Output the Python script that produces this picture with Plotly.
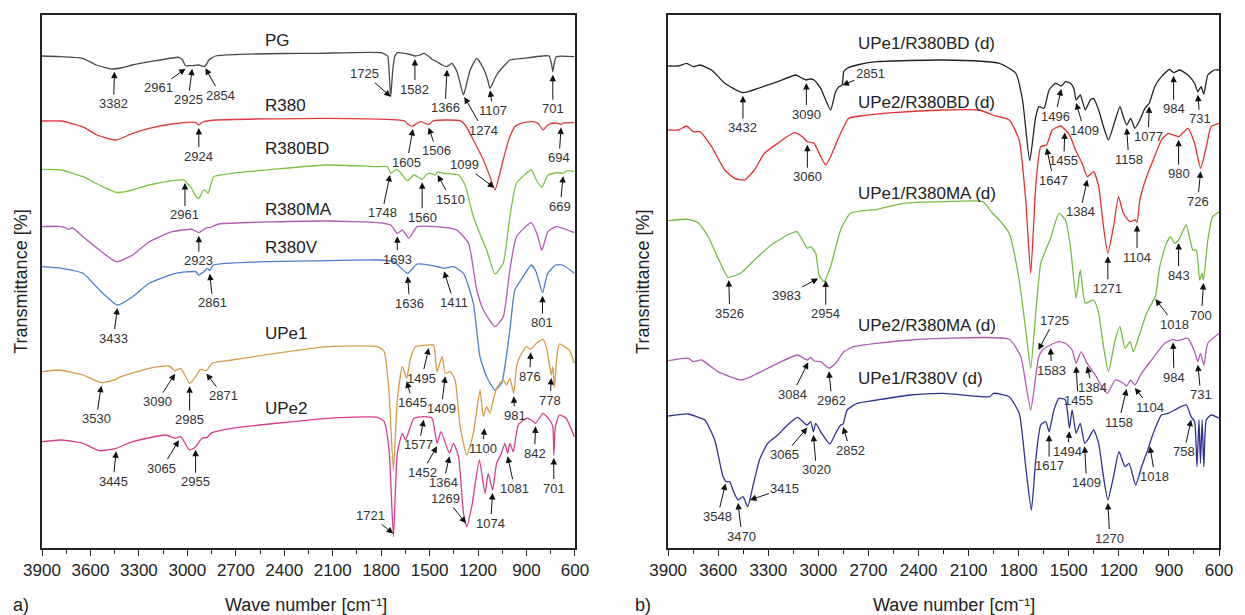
import numpy as np
import plotly.graph_objects as go

# ---------------------------------------------------------------------------
# FTIR spectra, wavenumber (cm-1) and stacked transmittance (offset, a.u.)
# ---------------------------------------------------------------------------
# Panel a)
pg_wn = [3900, 3800, 3648, 3564, 3464, 3400, 3341, 3193, 3052, 3030, 3011, 2990, 2970, 2929, 2910, 2898, 2880, 2867, 2826, 2700,
         2400, 2191, 1800, 1760, 1752, 1741, 1728, 1716, 1700, 1620, 1591, 1560, 1536, 1500, 1485, 1454, 1423, 1392, 1362, 1330,
         1290, 1270, 1249, 1208, 1167, 1140, 1126, 1085, 1044, 1003, 921, 800, 760, 745, 737, 728, 716, 604]
pg_t = [492, 491.5, 489.7, 483, 479, 480.5, 483, 487.3, 490.7, 488, 482.3, 482.3, 482.3, 483, 482, 481.3, 484, 488, 492, 493.5,
        494.5, 494.7, 495.3, 492, 480, 451.3, 478, 491.3, 495.3, 493.5, 492, 493, 494.7, 491, 488.7, 486.3, 483, 481.3, 484.7, 476.3,
        453, 465, 478, 489.7, 479.7, 468, 459.7, 473, 481.3, 488, 489.7, 492, 492, 484, 476.3, 485, 491.3, 491.3]

r380_wn = [3900, 3780, 3650, 3560, 3441, 3339, 3236, 3094, 2949, 2929, 2905, 2826, 2130, 1659, 1628, 1603, 1580, 1556, 1506, 1475,
           1311, 1280, 1229, 1167, 1126, 1095, 1065, 1034, 1003, 972, 921, 859, 825, 798, 775, 757, 720, 686, 670, 604]
r380_t = [427, 427, 421.3, 413, 408, 414.7, 419.7, 424, 425.7, 423, 426, 428, 429.7, 427.3, 423, 422, 424.5, 426.3, 423.5, 427.3,
          427.3, 423, 408, 388, 371.3, 358, 374.7, 394.7, 411.3, 421.3, 425.3, 426.3, 424, 418, 422, 424, 425, 423.5, 425, 425.3]

r380bd_wn = [3900, 3780, 3646, 3544, 3441, 3380, 3236, 3093, 3021, 3001, 2975, 2950, 2929, 2910, 2898, 2885, 2872, 2855, 2837, 2724,
             2130, 1823, 1760, 1741, 1720, 1700, 1638, 1597, 1546, 1520, 1495, 1464, 1450, 1413, 1321, 1280, 1229, 1147, 1095, 1044,
             1003, 962, 870, 839, 805, 767, 706, 676, 645, 604]
r380bd_t = [378.7, 378, 371.3, 363, 355.7, 356.3, 363, 367.3, 368, 364.7, 360, 352, 349.7, 355, 358, 357, 354.7, 363, 371.3, 374.7,
            383, 381.3, 381.3, 374.7, 377, 378.7, 367.3, 373, 368.7, 373.5, 374.7, 373, 376, 374.7, 373, 363, 331.3, 298, 274, 284.7,
            331.3, 364.7, 378, 368, 360.7, 373, 375.3, 374.7, 377.3, 376.3]

r380ma_wn = [3900, 3800, 3760, 3738, 3710, 3646, 3544, 3441, 3339, 3236, 3093, 2970, 2929, 2888, 2857, 2806, 2130, 1823, 1741, 1700,
             1669, 1628, 1577, 1413, 1331, 1259, 1208, 1167, 1095, 1044, 1003, 962, 870, 829, 805, 767, 716, 604]
r380ma_t = [321.3, 321.7, 320.7, 318.7, 320, 311.3, 298, 286.3, 293, 306.3, 316.3, 318.7, 315.3, 319.7, 320.7, 324, 327, 325.3, 323, 314.7,
            318, 309.7, 321.3, 320.7, 318, 304.7, 258, 238, 221.3, 231.3, 278, 311.3, 325.3, 311.3, 298, 316.3, 321.3, 315.3]

r380v_wn = [3900, 3780, 3646, 3544, 3433, 3339, 3236, 3072, 2949, 2929, 2898, 2875, 2861, 2840, 2130, 1823, 1721, 1636, 1577, 1440,
            1411, 1352, 1290, 1229, 1188, 1147, 1095, 1054, 1003, 972, 921, 870, 840, 801, 770, 720, 676, 604]
r380v_t = [281.3, 279.7, 274.7, 258, 243, 251.3, 264.7, 274.7, 276.3, 273, 276.3, 279.7, 277.3, 283, 287.3, 288, 286.3, 274.7, 284, 281,
           279.7, 281.3, 274.7, 244.7, 191.3, 171.3, 158, 164.7, 218, 258, 271.3, 283, 276, 255.3, 274, 283, 283, 274.7]

upe1_wn = [3900, 3800, 3646, 3533, 3441, 3420, 3236, 3113, 3076, 3041, 2986, 2949, 2918, 2882, 2847, 2724, 2130, 1823, 1781, 1751,
           1724, 1700, 1669, 1642, 1618, 1587, 1505, 1475, 1454, 1423, 1403, 1372, 1342, 1311, 1270, 1229, 1188, 1167, 1147, 1126,
           1106, 1085, 1065, 1044, 1024, 1003, 979, 962, 941, 901, 874, 839, 798, 778, 757, 747, 737, 727, 712, 696,
           665, 635, 604]
upe1_t = [176.3, 178, 173, 165.3, 168.7, 170.7, 179.7, 182, 177.3, 179.7, 164.7, 171.3, 178.7, 177.3, 184.7, 188, 201.3, 201.3, 196.3, 154.7,
          78, 148, 181.3, 169.7, 189.7, 201.3, 203, 203, 176.3, 191.3, 174.7, 176.3, 168, 121.3, 93, 114.7, 158, 131.3, 141.3, 134.7,
          148, 159.7, 164.7, 168, 163, 169.7, 154.7, 181.3, 191.3, 201.3, 198.7, 204.7, 208.7, 201.3, 183, 173, 181.3, 160.7, 191.3, 204,
          201.3, 198, 184.7]

upe2_wn = [3900, 3780, 3646, 3544, 3441, 3339, 3134, 3076, 3041, 2986, 2949, 2909, 2878, 2847, 2724, 2130, 1823, 1781, 1751, 1724,
           1700, 1669, 1649, 1597, 1536, 1485, 1454, 1430, 1377, 1352, 1321, 1290, 1270, 1239, 1192, 1157, 1137, 1110, 1085, 1055,
           1034, 1017, 1003, 982, 951, 901, 870, 844, 798, 757, 737, 731, 721, 696, 655, 604]
upe2_t = [106.3, 108, 104.7, 97.3, 99.7, 106.3, 113, 109.7, 111.3, 98, 101.3, 109.7, 110.7, 115.3, 119.7, 129.7, 130.7, 126.3, 98, 11.3,
          94.7, 114.7, 108, 129.7, 131.3, 129.7, 104.7, 116.3, 94.7, 104.7, 91.3, 34.7, 21.3, 41.3, 88, 54.7, 74.7, 58, 84.7, 94.7,
          104.7, 94.7, 104.7, 96.3, 123, 129.7, 128, 124.7, 134.7, 128, 121.3, 93, 121.3, 133, 129.7, 111.3]

# Panel b)
e1bd_wn = [3900, 3838, 3789, 3749, 3710, 3640, 3561, 3452, 3343, 3244, 3135, 3100, 3072, 3050, 3026, 2986, 2927, 2897, 2877, 2858,
           2848, 2828, 2768, 2650, 2253, 1916, 1817, 1777, 1734, 1698, 1678, 1648, 1618, 1579, 1545, 1520, 1490, 1470, 1456, 1431,
           1401, 1371, 1351, 1321, 1292, 1262, 1222, 1193, 1173, 1153, 1129, 1104, 1074, 1044, 1018, 985, 945, 896, 872, 836,
           786, 746, 727, 707, 691, 667, 628, 598]
e1bd_t = [482, 482, 484.7, 481.3, 483, 478, 464.7, 455.3, 460.7, 466.3, 473, 470, 468, 469, 468, 459.7, 438, 456.3, 461.3, 463,
          476.3, 479.7, 483, 486.3, 488, 484.7, 474.7, 448, 387.3, 431.3, 441.3, 439.7, 458, 464.7, 462, 466.3, 464.7, 459.7, 448, 453,
          438, 448, 449.7, 438, 421.3, 408, 428, 441.3, 431.3, 423, 429.7, 419.7, 428, 439.7, 444.7, 461.3, 471.3, 478.7, 475.3, 478,
          473, 464.7, 456.3, 461.3, 454, 473, 478, 478]

e2bd_wn = [3900, 3838, 3789, 3749, 3710, 3640, 3561, 3502, 3442, 3383, 3323, 3244, 3145, 3096, 3066, 3026, 2986, 2956, 2927, 2867,
           2818, 2748, 2550, 2253, 2038, 1956, 1857, 1797, 1758, 1728, 1698, 1668, 1633, 1599, 1549, 1520, 1490, 1460, 1420, 1389,
           1351, 1321, 1292, 1266, 1232, 1202, 1173, 1133, 1104, 1091, 1074, 1034, 994, 945, 905, 842, 786, 746, 710, 676,
           647, 598]
e2bd_t = [418, 418, 422, 416.3, 416.3, 401.3, 378, 369.7, 368, 378, 394.7, 404.7, 415.3, 411.3, 406.3, 404.7, 391.3, 383, 391.3, 414.7,
          429.7, 432, 435.3, 438, 438, 433, 428, 408, 348, 274.7, 361.3, 401.3, 403, 418, 422, 418, 411.3, 398, 384.7, 371.3,
          376.3, 361.3, 321.3, 294.7, 321.3, 351.3, 334.7, 326.3, 328, 326, 348, 371.3, 388, 408, 414.7, 411.3, 419.7, 404.7, 379.7, 401.3,
          421.3, 424.7]

e1ma_wn = [3900, 3779, 3720, 3660, 3601, 3541, 3462, 3383, 3283, 3185, 3129, 3085, 3066, 3046, 3016, 2996, 2967, 2927, 2867, 2808,
           2650, 2491, 2253, 2015, 1956, 1916, 1857, 1797, 1758, 1728, 1698, 1668, 1638, 1609, 1559, 1520, 1490, 1456, 1431, 1401,
           1351, 1321, 1292, 1262, 1222, 1193, 1163, 1133, 1113, 1074, 1034, 981, 955, 915, 890, 866, 842, 796, 757, 736,
           716, 702, 693, 667, 638, 598]
e1ma_t = [327.3, 328.7, 325.3, 311.3, 289.7, 270.7, 275.3, 288, 303, 313, 316.3, 304.7, 299.7, 301.3, 294.7, 273, 266.3, 281.3, 318, 334.7,
          338.7, 344.7, 346.3, 346.3, 334.7, 328, 314.7, 268, 218, 179.7, 234.7, 284.7, 298, 309.7, 334.7, 328, 301.3, 249.7, 278, 244.7,
          248, 234.7, 201.3, 176.3, 208, 221.3, 199.7, 206.3, 196.3, 214.7, 234.7, 252, 281.3, 304.7, 311.3, 304.7, 308, 323, 298, 298,
          268, 274.7, 268, 308, 331.3, 336.3]

e2ma_wn = [3900, 3779, 3750, 3700, 3601, 3462, 3383, 3244, 3125, 3066, 3046, 3026, 2986, 2937, 2897, 2848, 2788, 2650, 2451, 2253,
           1857, 1787, 1758, 1728, 1698, 1682, 1658, 1609, 1559, 1520, 1480, 1456, 1426, 1390, 1341, 1302, 1268, 1222, 1173, 1153,
           1129, 1104, 1064, 1004, 925, 875, 846, 786, 746, 727, 711, 691, 667, 598]
e2ma_t = [187.3, 189.7, 186.3, 188, 176.3, 168, 173, 184.7, 193, 188, 190.7, 187, 186.3, 179.7, 184.7, 196.3, 201.3, 204.7, 208, 209.7,
          208.7, 191.3, 164.7, 138, 171.3, 190, 198, 203, 206.3, 204.7, 198, 184.7, 196.3, 184.7, 173, 161.3, 154.7, 168, 164.7, 162,
          168, 163, 174.7, 188, 204.7, 208.7, 207.3, 209.7, 196.3, 186.3, 194.7, 183, 204.7, 214.7]

e1v_wn = [3900, 3779, 3729, 3680, 3621, 3571, 3551, 3531, 3512, 3482, 3452, 3423, 3393, 3353, 3304, 3244, 3185, 3125, 3069, 3046,
          3030, 3016, 2986, 2931, 2897, 2867, 2852, 2828, 2768, 2650, 2451, 2253, 1975, 1950, 1857, 1797, 1758, 1724, 1698, 1668,
          1638, 1618, 1589, 1559, 1520, 1496, 1480, 1456, 1431, 1405, 1381, 1351, 1321, 1292, 1266, 1232, 1199, 1163, 1139, 1099,
          1064, 1034, 1014, 994, 945, 905, 866, 796, 767, 746, 732, 720, 711, 701, 691, 676, 647, 598]
e1v_t = [132, 134, 131.3, 128, 108, 71.3, 66.3, 66.3, 58, 48, 51.3, 41.3, 61.3, 88, 104.7, 113, 123, 130.7, 123, 126.3,
         116.3, 124.7, 116.3, 104, 114.7, 123, 124, 138, 144.7, 148, 153, 154.7, 151.3, 154.7, 151.3, 134.7, 81.3, 38, 88, 123,
         126.3, 116.3, 138, 149.7, 148, 119.7, 138, 114.7, 124.7, 104.7, 109.7, 118, 104.7, 71.3, 48, 71.3, 96.3, 81.3, 84.7, 63,
         81.3, 94.7, 104.7, 114.7, 133, 134.7, 138, 143, 131.3, 126.3, 81.3, 128, 84.7, 128, 81.3, 128, 133, 129.7]

# key: (wavenumbers, transmittance, colour, name, panel, name-label height)
spectra = {
    "pg":     (pg_wn, pg_t, "#4a4a4a", "PG", 1, 508),
    "r380":   (r380_wn, r380_t, "#e0393e", "R380", 1, 443),
    "r380bd": (r380bd_wn, r380bd_t, "#7cc243", "R380BD", 1, 400),
    "r380ma": (r380ma_wn, r380ma_t, "#b05ab3", "R380MA", 1, 339),
    "r380v":  (r380v_wn, r380v_t, "#4a7fd0", "R380V", 1, 301),
    "upe1":   (upe1_wn, upe1_t, "#d69c4a", "UPe1", 1, 215),
    "upe2":   (upe2_wn, upe2_t, "#d93b8f", "UPe2", 1, 140),
    "e1bd":   (e1bd_wn, e1bd_t, "#222222", "UPe1/R380BD (d)", 2, 505),
    "e2bd":   (e2bd_wn, e2bd_t, "#e2302f", "UPe2/R380BD (d)", 2, 446),
    "e1ma":   (e1ma_wn, e1ma_t, "#76bb44", "UPe1/R380MA (d)", 2, 355),
    "e2ma":   (e2ma_wn, e2ma_t, "#b15cb4", "UPe2/R380MA (d)", 2, 223),
    "e1v":    (e1v_wn, e1v_t, "#2f3190", "UPe1/R380V (d)", 2, 170),
}

# Peak markers: (spectrum, label, wavenumber pointed at, text dx px, text dy px, gap below curve)
peaks = [
    ("pg", "3382", 3451, -1, 32, 3), ("pg", "2961", 3011, -27, 19, 3), ("pg", "2925", 2970, -4, 31, 3),
    ("pg", "2854", 2888, 15, 27, 3), ("pg", "1725", 1741, -26, -23, 0), ("pg", "1582", 1591, 0, 30, 3),
    ("pg", "1366", 1392, -2, 38, 3), ("pg", "1274", 1285, 19, 33, 5), ("pg", "1107", 1126, 3, 20, 2),
    ("pg", "701", 737, 0, 34, 3),
    ("r380", "2924", 2929, 0, 28, 3), ("r380", "1605", 1603, -6, 33, 3), ("r380", "1506", 1506, 8, 23, 3),
    ("r380", "1099", 1100, -30, -23, 0), ("r380", "694", 686, -2, 30, 3),
    ("r380bd", "2961", 3015, 0, 32, 2), ("r380bd", "1748", 1745, -8, 38, 3), ("r380bd", "1560", 1546, 0, 35, 3),
    ("r380bd", "1510", 1450, 13, 24, 3), ("r380bd", "669", 673, -3, 30, 3),
    ("r380ma", "2923", 2929, 0, 25, 3), ("r380ma", "1693", 1700, 0, 23, 3),
    ("r380v", "3433", 3433, -4, 30, 3), ("r380v", "2861", 2861, 3, 29, 3), ("r380v", "1636", 1636, 2, 27, 3),
    ("r380v", "1411", 1411, 10, 31, 3), ("r380v", "801", 801, 0, 27, 3),
    ("upe1", "3530", 3533, -5, 33, 3), ("upe1", "3090", 3076, -18, 28, 3), ("upe1", "2985", 2986, 0, 33, 3),
    ("upe1", "2871", 2882, 17, 22, 3), ("upe1", "1645", 1642, 6, 21, 3), ("upe1", "1495", 1505, -7, 30, 3),
    ("upe1", "1409", 1403, -4, 32, 3), ("upe1", "1100", 1160, -2, 20, 15), ("upe1", "981", 979, 1, 19, 3),
    ("upe1", "876", 874, -1, 24, 3), ("upe1", "778", 747, -1, 22, 3),
    ("upe2", "3445", 3441, -3, 30, 3), ("upe2", "3065", 3052, -17, 28, 3), ("upe2", "2955", 2949, 0, 32, 3),
    ("upe2", "1577", 1536, -5, 25, 3), ("upe2", "1452", 1454, -15, 26, 3), ("upe2", "1364", 1377, -6, 26, 3),
    ("upe2", "1269", 1275, -20, -25, 0), ("upe2", "1721", 1725, -23, -18, 0), ("upe2", "1074", 1110, -2, 30, 3),
    ("upe2", "1081", 1017, 7, 32, 3), ("upe2", "842", 844, -1, 27, 3), ("upe2", "701", 731, 0, 30, 3),
    ("e1bd", "3432", 3452, 0, 32, 3), ("e1bd", "3090", 3072, 0, 31, 3), ("e1bd", "2851", 2856, 28, -12, 3),
    ("e1bd", "1496", 1545, -6, 27, 3), ("e1bd", "1409", 1456, 8, 27, 3), ("e1bd", "1158", 1153, 2, 31, 3),
    ("e1bd", "1077", 1018, -1, 30, 3), ("e1bd", "984", 872, 0, 33, 3), ("e1bd", "731", 727, 2, 24, 3),
    ("e2bd", "3060", 3066, 0, 32, 3), ("e2bd", "1647", 1633, 7, 32, 3), ("e2bd", "1455", 1524, -1, 28, 3),
    ("e2bd", "1384", 1389, -7, 32, 3), ("e2bd", "1271", 1266, 0, 32, 3), ("e2bd", "1104", 1091, 0, 32, 3),
    ("e2bd", "980", 842, 0, 34, 3), ("e2bd", "726", 710, -3, 30, 3),
    ("e1ma", "3526", 3537, 1, 33, 3), ("e1ma", "3983", 3002, -32, 17, 10), ("e1ma", "2954", 2956, 0, 33, 3),
    ("e1ma", "1018", 981, 19, 25, 3), ("e1ma", "843", 842, 0, 32, 3), ("e1ma", "700", 693, -2, 32, 3),
    ("e2ma", "3084", 3061, -16, 32, 3), ("e2ma", "2962", 2937, 3, 29, 3), ("e2ma", "1725", 1682, 16, -30, -8),
    ("e2ma", "1583", 1609, 1, 22, 3), ("e2ma", "1455", 1456, 2, 34, 3), ("e2ma", "1384", 1390, 5, 21, 3),
    ("e2ma", "1158", 1153, -8, 33, 3), ("e2ma", "1104", 1104, 15, 19, 3), ("e2ma", "984", 875, 1, 35, 3),
    ("e2ma", "731", 727, 3, 30, 3),
    ("e1v", "3548", 3556, -8, 33, 3), ("e1v", "3470", 3482, 4, 33, 3), ("e1v", "3415", 3410, 35, -12, 2),
    ("e1v", "3065", 3066, -23, 27, 3), ("e1v", "3020", 3030, 3, 35, 3), ("e1v", "2852", 2852, 7, 23, 3),
    ("e1v", "1617", 1618, 0, 31, 3), ("e1v", "1494", 1496, -2, 20, 3), ("e1v", "1409", 1405, 2, 36, 3),
    ("e1v", "1270", 1266, 2, 35, 3), ("e1v", "1018", 1014, 5, 30, 3), ("e1v", "758", 767, -7, 32, 3),
]

WN_TICKS = [3900, 3600, 3300, 3000, 2700, 2400, 2100, 1800, 1500, 1200, 900, 600]
NAME_X = {1: 2529, 2: 2776}

FONT = "Liberation Sans, Arial, sans-serif"
INK = "#222222"

fig = go.Figure()
annotations = []

for key, (wn, t, colour, name, panel, label_y) in spectra.items():
    xa, ya = ("x", "y") if panel == 1 else ("x2", "y2")
    fig.add_trace(go.Scatter(
        x=wn, y=t, mode="lines", name=name, xaxis=xa, yaxis=ya,
        line=dict(color=colour, width=1.3, shape="spline", smoothing=0.5),
        hoverinfo="skip", showlegend=False,
    ))
    annotations.append(dict(
        x=NAME_X[panel], y=label_y, xref=xa, yref=ya, text=name, showarrow=False,
        xanchor="left", yanchor="middle", font=dict(size=17, color=INK, family=FONT),
    ))

for key, label, pos, dx, dy, gap in peaks:
    wn, t, _, _, panel, _ = spectra[key]
    xa, ya = ("x", "y") if panel == 1 else ("x2", "y2")
    tip = float(np.interp(pos, wn[::-1], t[::-1])) - gap
    annotations.append(dict(
        x=pos, y=tip, xref=xa, yref=ya, text=label, showarrow=True,
        ax=dx, ay=dy, axref="pixel", ayref="pixel",
        arrowhead=2, arrowsize=1.3, arrowwidth=1, arrowcolor="#111111", standoff=0,
        font=dict(size=13, color="#333333", family=FONT),
    ))

# axis titles and panel letters
for px in (-0.0185, 0.5101):
    annotations.append(dict(x=px, y=0.5, xref="paper", yref="paper", text="Transmittance [%]",
                            textangle=-90, showarrow=False, xanchor="center", yanchor="middle",
                            font=dict(size=18, color=INK, family=FONT)))
for px in (0.224, 0.775):
    annotations.append(dict(x=px, y=-0.107, xref="paper", yref="paper", text="Wave number [cm⁻¹]",
                            showarrow=False, xanchor="center", yanchor="middle",
                            font=dict(size=18, color=INK, family=FONT)))
for px, letter in ((-0.0177, "a)"), (0.511, "b)")):
    annotations.append(dict(x=px, y=-0.107, xref="paper", yref="paper", text=letter,
                            showarrow=False, xanchor="center", yanchor="middle",
                            font=dict(size=18, color=INK, family=FONT)))

xcommon = dict(
    range=[3900, 600], tickmode="array", tickvals=WN_TICKS, ticktext=[str(v) for v in WN_TICKS],
    ticks="outside", ticklen=6, tickwidth=1.3, tickcolor=INK,
    minor=dict(tickmode="array", tickvals=[v - 150 for v in WN_TICKS[:-1]], ticks="outside",
               ticklen=4, tickwidth=1.2, tickcolor=INK, showgrid=False),
    showline=True, mirror=True, linecolor=INK, linewidth=1.6,
    showgrid=False, zeroline=False, tickfont=dict(size=17, color=INK, family=FONT),
)
ycommon = dict(range=[0, 533], showticklabels=False, ticks="", showline=True, mirror=True,
               linecolor=INK, linewidth=1.6, showgrid=False, zeroline=False)

fig.update_layout(
    width=1245, height=615,
    margin=dict(l=42, r=17, t=15, b=67),
    paper_bgcolor="white", plot_bgcolor="white",
    font=dict(family=FONT, color=INK),
    xaxis=dict(domain=[0, 0.4528], anchor="y", **xcommon),
    xaxis2=dict(domain=[0.532, 1], anchor="y2", **xcommon),
    yaxis=dict(domain=[0, 1], anchor="x", **ycommon),
    yaxis2=dict(domain=[0, 1], anchor="x2", **ycommon),
    annotations=annotations,
    showlegend=False,
)

fig.write_html("out.html")
